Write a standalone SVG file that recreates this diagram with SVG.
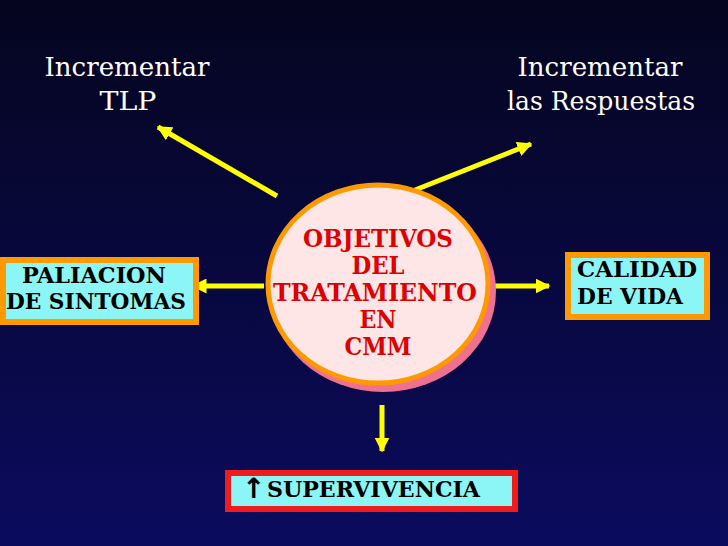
<svg xmlns="http://www.w3.org/2000/svg" width="728" height="546" viewBox="0 0 728 546">
<defs>
<linearGradient id="bg" x1="0" y1="0" x2="0" y2="1">
<stop offset="0" stop-color="#05051f"/>
<stop offset="1" stop-color="#0b0b5e"/>
</linearGradient>
<marker id="ah" viewBox="0 0 10 10" refX="9" refY="5" markerWidth="3" markerHeight="3" orient="auto" markerUnits="strokeWidth">
<path d="M0,0 L10,5 L0,10 Z" fill="#ffff00"/>
</marker>
<style>
text{font-family:"DejaVu Serif Condensed","DejaVu Serif",serif}
.top{font-size:26px;fill:#ffffff;text-anchor:middle}
.box{fill:#8cf5f5;stroke:#ff9900;stroke-width:6}
.lbl{font-size:23px;font-weight:bold;fill:#000000}
.ctr{font-size:24px;font-weight:bold;fill:#dd0000;text-anchor:middle}
.con{stroke:#ffff00;stroke-width:5;fill:none;marker-end:url(#ah)}
</style>
</defs>
<rect x="0" y="0" width="728" height="546" fill="url(#bg)"/>
<g id="tlp">
<text class="top" x="127" y="76" textLength="165" lengthAdjust="spacingAndGlyphs">Incrementar</text>
<text class="top" x="128" y="110" textLength="57" lengthAdjust="spacingAndGlyphs">TLP</text>
</g>
<g id="respuestas">
<text class="top" x="600" y="76" textLength="165" lengthAdjust="spacingAndGlyphs">Incrementar</text>
<text class="top" x="601" y="110" textLength="188" lengthAdjust="spacingAndGlyphs">las Respuestas</text>
</g>
<g id="connectors">
<line class="con" x1="277" y1="196" x2="158" y2="127"/>
<line class="con" x1="415" y1="190" x2="531" y2="144"/>
<line class="con" x1="264" y1="286" x2="193" y2="286"/>
<line class="con" x1="490" y1="286" x2="549" y2="286"/>
<line class="con" x1="382" y1="405" x2="382" y2="451"/>
</g>
<g id="paliacion">
<rect class="box" x="3" y="260" width="193" height="62"/>
<text class="lbl" x="94" y="283" text-anchor="middle" textLength="144" lengthAdjust="spacingAndGlyphs">PALIACION</text>
<text class="lbl" x="96" y="309" text-anchor="middle" textLength="180" lengthAdjust="spacingAndGlyphs">DE SINTOMAS</text>
</g>
<g id="objetivos">
<ellipse cx="383" cy="291" rx="113" ry="101" fill="#f07090"/>
<ellipse cx="378" cy="284" rx="110" ry="99" fill="#ffe6e6" stroke="#ff9900" stroke-width="5"/>
<text class="ctr" x="378" y="247" textLength="150" lengthAdjust="spacingAndGlyphs">OBJETIVOS</text>
<text class="ctr" x="378" y="274" textLength="53" lengthAdjust="spacingAndGlyphs">DEL</text>
<text class="ctr" x="375" y="301" textLength="204" lengthAdjust="spacingAndGlyphs">TRATAMIENTO</text>
<text class="ctr" x="378" y="328" textLength="37" lengthAdjust="spacingAndGlyphs">EN</text>
<text class="ctr" x="378" y="355" textLength="67" lengthAdjust="spacingAndGlyphs">CMM</text>
</g>
<g id="calidad">
<rect class="box" x="568" y="255" width="139" height="62"/>
<text class="lbl" x="577" y="277" textLength="120" lengthAdjust="spacingAndGlyphs">CALIDAD</text>
<text class="lbl" x="577" y="304" textLength="106" lengthAdjust="spacingAndGlyphs">DE VIDA</text>
</g>
<g id="supervivencia">
<rect x="228" y="473" width="287" height="36" fill="#8cf5f5" stroke="#ee1c1c" stroke-width="6"/>
<text x="242" y="498" font-family="DejaVu Sans, sans-serif" style="font-family:'DejaVu Sans',sans-serif" font-size="28" font-weight="bold" fill="#000000">↑</text>
<text class="lbl" x="267" y="497" textLength="213" lengthAdjust="spacingAndGlyphs">SUPERVIVENCIA</text>
</g>
</svg>
